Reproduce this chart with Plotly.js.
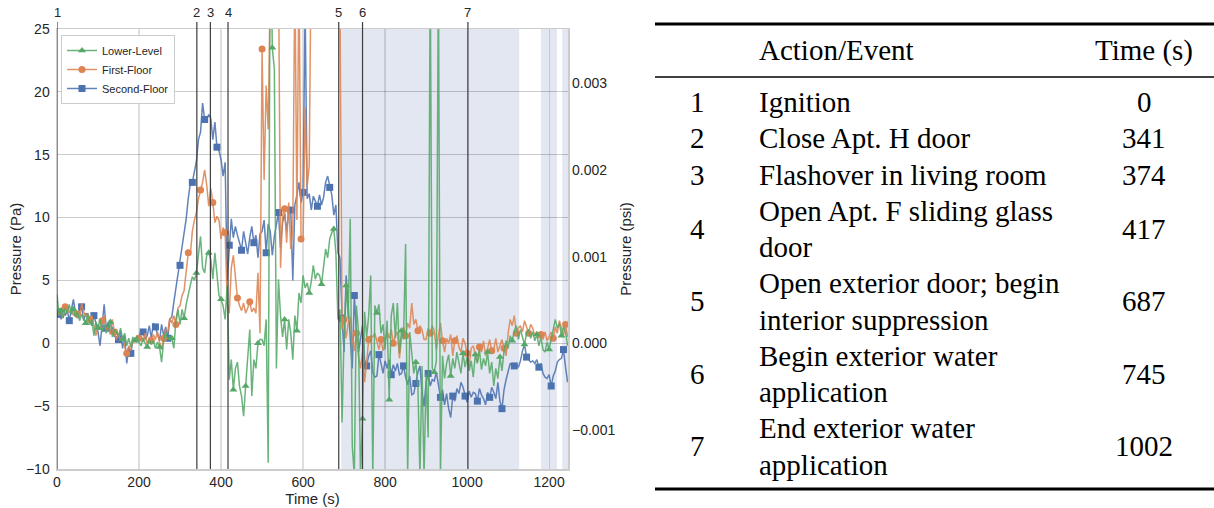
<!DOCTYPE html>
<html><head><meta charset="utf-8">
<script src="https://cdn.plot.ly/plotly-3.0.1.min.js"></script>
<style>html,body{margin:0;padding:0;background:#fff;}#chart{width:1214px;height:508px;}</style>
</head><body><div id="chart"></div>
<script>
// ---------- data ----------
const timeS = [
0,5,10,15,20,25,30,35,40,45,
50,55,60,65,70,75,80,85,90,95,
100,105,110,115,120,125,130,135,140,145,
150,155,160,165,170,175,180,185,190,195,
200,205,210,215,220,225,230,235,240,245,
250,255,260,265,270,275,280,285,290,295,
300,305,310,315,320,325,330,335,340,345,
350,355,360,365,370,375,380,385,390,395,
400,405,410,415,420,425,430,435,440,445,
450,455,460,465,470,475,480,485,490,495,
500,505,510,515,520,525,530,535,540,545,
550,555,560,565,570,575,580,585,590,595,
600,605,610,615,620,625,630,635,640,645,
650,655,660,665,670,675,680,685,690,695,
700,705,710,715,720,725,730,735,740,745,
750,755,760,765,770,775,780,785,790,795,
800,805,810,815,820,825,830,835,840,845,
850,855,860,865,870,875,880,885,890,895,
900,905,910,915,920,925,930,935,940,945,
950,955,960,965,970,975,980,985,990,995,
1000,1005,1010,1015,1020,1025,1030,1035,1040,1045,
1050,1055,1060,1065,1070,1075,1080,1085,1090,1095,
1100,1105,1110,1115,1120,1125,1130,1135,1140,1145,
1150,1155,1160,1165,1170,1175,1180,1185,1190,1195,
1200,1205,1210,1215,1220,1225,1230,1235,1240,1245];

const lowerLevel = [
3.9,2.2,2.6,2.0,2.8,2.4,3.1,2.3,2.7,2.1,
2.5,1.8,2.3,2.0,1.6,2.4,1.5,1.9,0.6,1.7,
1.2,1.9,0.9,1.5,0.8,1.3,1.7,0.5,1.1,0.9,
0.6,1.2,0.3,0.8,-0.2,0.4,-0.3,0.5,0.2,0.6,
0.1,-0.2,0.4,0.0,-0.3,0.3,-0.1,0.2,-0.4,0.1,
-0.3,-1.5,0.2,0.9,0.3,0.6,0.4,-0.4,1.9,2.7,
1.5,2.7,2.0,3.1,4.0,4.6,5.3,5.0,5.6,7.2,
8.5,6.0,5.6,7.0,7.2,6.7,5.1,7.2,5.4,3.8,
3.5,3.0,1.9,4.6,-2.9,-1.3,-3.7,-2.0,-1.5,-3.4,
-4.2,-5.8,-3.4,-1.0,1.1,-4.2,-1.3,-2.0,0.0,0.3,
0.3,-0.2,1.9,-9.5,35.0,23.5,21.8,-2.0,5.1,2.2,
0.5,1.9,-0.5,1.9,0.8,-1.3,2.2,1.0,4.0,3.2,
5.4,4.4,4.8,4.0,4.9,6.2,5.1,5.6,5.4,4.7,
6.2,7.5,6.8,8.3,8.8,9.1,7.2,1.9,2.7,-6.3,
0.6,4.6,2.0,9.9,-8.2,-10.5,3.0,1.0,-10.5,-6.0,
2.5,0.5,2.2,5.4,-10.5,3.0,2.4,3.1,0.8,1.5,
-0.5,1.8,-4.5,2.2,3.2,0.4,3.2,-0.8,1.0,0.3,
7.9,-10.5,0.9,-1.0,-2.4,-1.5,-3.4,-10.5,-1.8,-10.5,
-2.5,-7.5,30.0,-2.0,-2.3,-1.4,30.0,-10.5,-1.0,-2.8,
-1.6,-0.9,-2.6,-1.2,-2.0,-0.7,-1.5,-2.4,-0.8,-1.9,
-1.1,-2.2,-1.4,-2.7,-0.9,-1.6,-0.5,-2.1,-1.2,-1.8,
-0.7,-2.4,-1.5,-3.4,-2.0,-2.8,-1.1,-2.2,-0.6,0.2,
-0.4,0.6,0.2,1.0,1.4,0.3,1.1,0.5,-0.1,0.8,
1.1,0.4,0.9,0.2,0.7,-0.2,0.5,-0.5,-0.7,0.1,
-0.5,0.3,1.0,1.9,1.2,1.6,0.6,1.3,0.9,-0.2];

const firstFloor = [
2.7,2.2,2.5,2.0,2.9,3.0,2.4,2.7,2.2,2.6,
2.3,2.0,3.2,2.5,2.1,2.4,1.9,2.2,1.4,0.6,
1.5,1.2,1.8,2.2,1.0,1.4,0.7,1.9,0.9,0.3,
0.8,0.2,0.6,-0.3,-0.8,-0.2,-0.6,0.3,0.1,0.6,
0.4,0.6,0.1,0.8,-0.1,0.5,0.2,0.7,0.3,0.9,
0.1,-0.5,0.4,1.1,0.9,2.0,1.6,2.2,1.5,2.8,
3.0,3.8,4.2,5.6,7.2,7.0,8.9,9.8,10.4,11.5,
12.2,12.8,13.8,12.6,10.9,12.3,11.2,9.6,10.1,9.8,
8.3,9.2,8.8,3.2,2.4,6.0,7.0,5.0,3.6,3.0,
2.6,3.2,2.4,2.8,3.3,2.5,2.8,2.4,5.6,0.8,
23.4,13.0,20.5,17.0,34.0,40.0,38.0,36.0,31.0,6.0,
10.2,10.7,8.0,11.2,7.5,9.0,30.0,9.8,30.0,8.3,
8.1,18.8,12.5,14.1,32.0,36.0,40.0,38.0,42.0,37.0,
35.0,39.0,33.0,36.0,34.0,38.0,32.0,30.0,28.0,1.1,
1.9,0.4,1.6,2.1,0.3,-0.6,0.8,-1.0,-2.0,-0.7,
-3.1,-1.5,0.3,0.6,0.5,0.8,0.1,-0.5,0.3,-0.6,
0.2,0.9,0.4,1.1,0.0,0.6,0.9,-1.2,0.4,1.3,
0.6,1.6,1.2,3.2,1.5,1.9,1.0,1.4,1.1,0.3,
0.3,1.2,0.8,1.4,1.0,-0.5,0.6,1.6,0.2,-0.7,
0.4,0.0,0.7,-1.0,0.2,0.6,-0.3,-0.7,0.4,0.0,
-0.8,-1.8,-0.4,-0.2,-0.9,-1.5,-0.3,-0.7,0.2,-1.0,
-0.4,0.3,-0.6,-0.5,0.4,-0.7,-0.2,0.3,-0.4,-1.0,
0.8,1.9,1.4,2.2,0.8,1.2,1.4,0.9,1.8,1.3,
0.8,1.5,1.2,0.6,0.9,0.4,0.7,0.3,0.9,0.2,
0.5,0.9,0.4,1.3,0.8,1.8,1.2,0.6,1.5,0.5];

const secondFloor = [
2.3,2.8,1.9,2.9,2.2,2.6,1.8,2.7,3.5,2.4,
2.0,2.7,2.9,1.8,2.4,2.2,1.9,1.4,2.2,1.6,
0.9,-0.2,1.5,3.1,1.2,1.6,0.8,1.3,0.5,1.1,
0.3,1.0,-0.4,0.6,-1.6,-0.3,-0.8,0.2,0.4,0.1,
0.5,1.0,0.9,0.3,0.6,1.4,0.4,1.6,1.3,0.7,
0.2,1.5,0.6,1.3,0.4,1.9,2.1,3.3,4.4,5.5,
6.2,7.5,8.8,9.9,11.5,12.7,12.8,13.6,14.5,16.2,
16.8,19.1,17.8,17.8,18.2,17.9,16.2,17.6,15.6,15.3,
14.6,13.3,14.4,5.0,7.8,9.9,8.4,9.3,8.6,8.0,
7.4,8.9,8.0,7.1,8.4,9.3,8.0,8.6,6.8,8.7,
8.9,9.8,7.2,9.5,8.9,7.0,8.5,9.5,10.4,7.6,
9.6,10.3,8.9,10.5,10.6,5.0,11.0,11.8,12.8,11.2,
12.0,27.0,11.5,11.9,10.6,11.7,11.3,10.9,11.8,11.0,
11.6,12.8,13.3,12.4,11.8,10.2,11.0,7.2,6.8,2.0,
-0.7,5.4,3.2,0.5,-2.0,3.8,0.9,-0.7,0.4,1.4,
-1.3,-1.8,-1.0,-0.6,-2.3,-2.7,-2.6,-0.9,-1.6,-2.4,
-1.4,-2.0,-1.3,-2.5,-1.7,-2.2,-1.6,-2.5,-2.4,-1.8,
-2.7,-3.3,-2.6,-4.1,-4.0,-3.2,-2.3,-1.8,-3.9,-5.0,
-3.1,-2.4,-3.4,-2.9,-3.0,-2.3,-3.5,-4.3,-3.7,-4.9,
-4.0,-5.2,-5.9,-4.2,-4.6,-3.6,-4.0,-3.1,-3.5,-4.2,
-4.7,-3.8,-4.3,-3.9,-4.0,-4.6,-3.6,-4.1,-4.4,-4.9,
-3.9,-4.3,-3.5,-3.9,-4.4,-3.1,-4.6,-5.2,-3.7,-2.9,
-2.2,-1.6,-1.8,-1.8,-1.7,-1.9,-1.4,-0.6,-0.1,-1.1,
-1.3,-1.5,-1.4,-1.6,-1.3,-1.9,-1.6,-2.4,-2.7,-2.8,
-2.5,-3.4,-2.6,-2.2,-1.5,-1.3,-1.2,-0.5,-1.9,-3.1];

const seriesNames = ['Lower-Level','First-Floor','Second-Floor'];
const eventLabels = ['1','2','3','4','5','6','7'];
const eventTimes = [0,341,374,417,687,745,1002];
const shadeStart = [693,1180,1232];
const shadeEnd = [1127,1219,1246];
const tableHeader = ['Action/Event','Time (s)'];
const eventText = [
  ['Ignition'],
  ['Close Apt. H door'],
  ['Flashover in living room'],
  ['Open Apt. F sliding glass','door'],
  ['Open exterior door; begin','interior suppression'],
  ['Begin exterior water','application'],
  ['End exterior water','application']
];
const PA_PER_PSI = 6894.757;
const yRangePa = [-10, 25];
const xRange = [0, 1246];

// ---------- geometry helpers ----------
const W = 1214, H = 508;
const M = {l:57, r:10, t:29, b:39};
const PW = W - M.l - M.r, PH = H - M.t - M.b;
const px2x = px => (px - M.l) / PW;
const py2y = py => (H - M.b - py) / PH;
const plotRight = 568;

// ---------- traces ----------
const styles = [
  {color:'#55a868', line:'rgba(85,168,104,0.88)', symbol:'triangle-up', size:7},
  {color:'#dd8452', line:'rgba(221,132,82,0.88)', symbol:'circle', size:7},
  {color:'#4c72b0', line:'rgba(76,114,176,0.88)', symbol:'square', size:7}
];
const ys = [lowerLevel, firstFloor, secondFloor];
const order = [2,1,0]; // draw blue first, green on top
const traces = order.map(i => ({
  type:'scatter', mode:'lines+markers', name: seriesNames[i],
  x: timeS, y: ys[i],
  line:{color: styles[i].line, width:1.5},
  marker:{color: styles[i].color, symbol: styles[i].symbol, size: styles[i].size, maxdisplayed: 45, line:{width:0}},
  xaxis:'x', yaxis:'y', hoverinfo:'skip'
}));
// same pressure expressed in psi, carried by the right-hand axis (transparent, only to host the psi scale)
traces.unshift({
  type:'scatter', mode:'lines', name:'psi', showlegend:false, hoverinfo:'skip',
  x: timeS, y: secondFloor.map(v => v / PA_PER_PSI),
  line:{width:0, color:'rgba(0,0,0,0)'}, opacity:0, xaxis:'x', yaxis:'y2'
});

// ---------- shapes ----------
const shapes = [];
shadeStart.forEach((s, k) => shapes.push({
  type:'rect', xref:'x', yref:'paper', x0:s, x1:shadeEnd[k], y0:0, y1:1,
  fillcolor:'#e3e7f1', line:{width:0}, layer:'below'
}));
eventTimes.forEach(t => shapes.push({
  type:'line', xref:'x', yref:'paper', x0:t, x1:t, y0:0, y1:1 + 7/PH,
  line:{color:'#3d3d3d', width:1.2}, layer:'above'
}));
// table rules
const ruleX0 = px2x(655), ruleX1 = px2x(1214);
[[24,3.2],[77,1.3],[489,3.2]].forEach(([py,w]) => shapes.push({
  type:'line', xref:'paper', yref:'paper', x0:ruleX0, x1:ruleX1, y0:py2y(py), y1:py2y(py),
  line:{color:'#000', width:w}
}));

// ---------- annotations ----------
const ann = [];
eventTimes.forEach((t, k) => ann.push({
  xref:'x', yref:'paper', x:t, y:1 + 17/PH, text:eventLabels[k], showarrow:false,
  xanchor:'center', yanchor:'middle', font:{size:13, color:'#262626'}
}));
const serif = {family:'Liberation Serif, Times New Roman, serif', size:29, color:'#000'};
const textX = px2x(757), numX = px2x(697), timeX = px2x(1144);
ann.push({xref:'paper', yref:'paper', x:textX, y:py2y(50), text:tableHeader[0], showarrow:false, xanchor:'left', yanchor:'middle', font:serif});
ann.push({xref:'paper', yref:'paper', x:timeX, y:py2y(50), text:tableHeader[1], showarrow:false, xanchor:'center', yanchor:'middle', font:serif});
let lineIdx = 0;
const lineY = k => 102 + k * 36.25;
eventText.forEach((lines, r) => {
  const first = lineIdx;
  lines.forEach(txt => {
    ann.push({xref:'paper', yref:'paper', x:textX, y:py2y(lineY(lineIdx)), text:txt, showarrow:false, xanchor:'left', yanchor:'middle', font:serif});
    lineIdx++;
  });
  const cy = (lineY(first) + lineY(lineIdx - 1)) / 2;
  ann.push({xref:'paper', yref:'paper', x:numX, y:py2y(cy), text:eventLabels[r], showarrow:false, xanchor:'center', yanchor:'middle', font:serif});
  ann.push({xref:'paper', yref:'paper', x:timeX, y:py2y(cy), text:String(eventTimes[r]), showarrow:false, xanchor:'center', yanchor:'middle', font:serif});
});

// ---------- layout ----------
const dom = [0, (plotRight - M.l) / PW];
const layout = {
  width:W, height:H, margin:M, paper_bgcolor:'#fff', plot_bgcolor:'#fff',
  font:{family:'Liberation Sans, Arial, sans-serif', color:'#262626', size:14},
  showlegend:true,
  legend:{x:px2x(61), y:py2y(35), xanchor:'left', yanchor:'top', traceorder:'reversed',
          bgcolor:'rgba(255,255,255,0.92)', bordercolor:'#cccccc', borderwidth:1,
          font:{size:11, color:'#262626'}},
  xaxis:{domain:dom, range:xRange, dtick:200, tick0:0, ticks:'', showgrid:true,
         gridcolor:'rgba(0,0,0,0.13)', gridwidth:1.2, zeroline:false,
         showline:true, mirror:true, linecolor:'#cccccc', linewidth:1.5,
         tickfont:{size:14}, automargin:false,
         title:{text:'Time (s)', font:{size:15}, standoff:2}},
  yaxis:{range:yRangePa, dtick:5, tick0:0, ticks:'', showgrid:true,
         gridcolor:'rgba(0,0,0,0.2)', gridwidth:1.2, zeroline:false,
         showline:true, mirror:true, linecolor:'#cccccc', linewidth:1.5,
         tickfont:{size:14}, automargin:false, ticklabelstandoff:3,
         title:{text:'Pressure (Pa)', font:{size:15}, standoff:0}},
  yaxis2:{overlaying:'y', side:'right', anchor:'x',
          range:yRangePa.map(v => v / PA_PER_PSI),
          tickvals:[-0.001,0,0.001,0.002,0.003], tickformat:'.3f',
          ticks:'', showgrid:false, zeroline:false, showline:false,
          tickfont:{size:14}, automargin:false, ticklabelstandoff:3,
          title:{text:'Pressure (psi)', font:{size:15}, standoff:6}},
  shapes:shapes, annotations:ann
};
Plotly.newPlot('chart', traces, layout, {displayModeBar:false, staticPlot:true});
</script>
</body></html>
